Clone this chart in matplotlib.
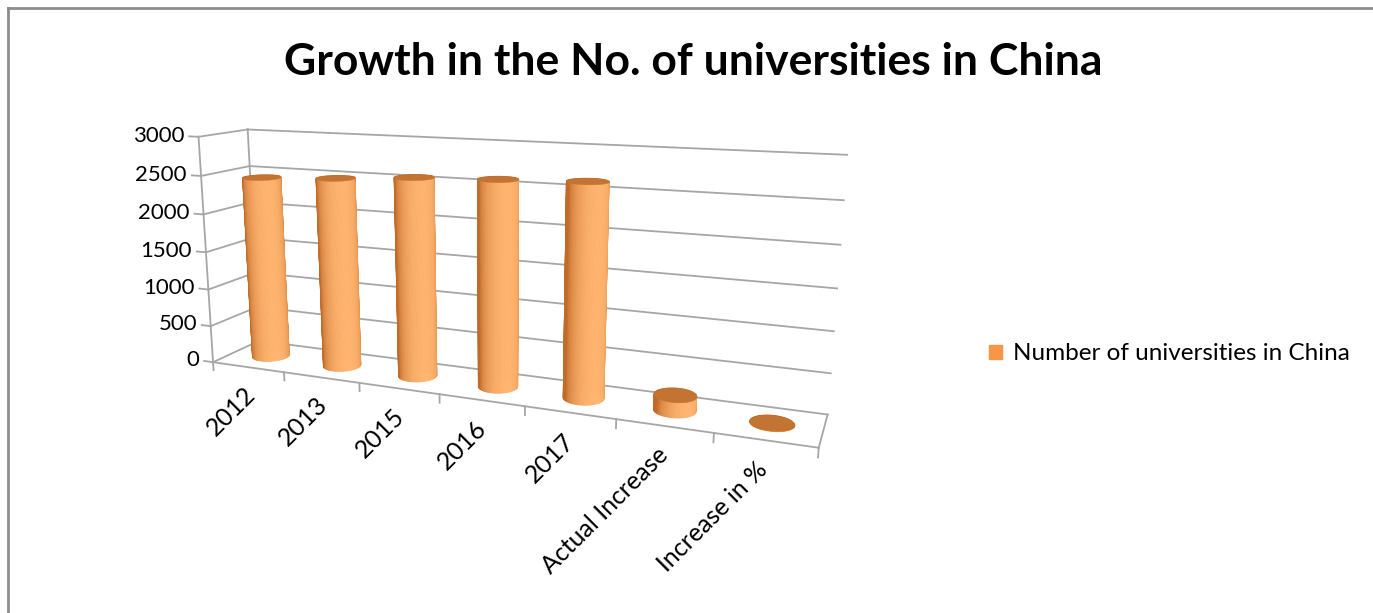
import numpy as np
import matplotlib.pyplot as plt
from matplotlib.lines import Line2D
from matplotlib.patches import Patch
from mpl_toolkits.mplot3d import proj3d
from mpl_toolkits.mplot3d.art3d import Poly3DCollection

# data
categories = ['2012', '2013', '2015', '2016', '2017', 'Actual Increase', 'Increase in %']
universities = [2442, 2491, 2560, 2596, 2631, 189, 7.7]
z_ticks = [0, 500, 1000, 1500, 2000, 2500, 3000]
series_name = 'Number of universities in China'
title = 'Growth in the No. of universities in China'

plt.rcParams['font.family'] = ['Lato', 'DejaVu Sans']

fig = plt.figure(figsize=(13.73, 6.13), dpi=100)
ax = fig.add_axes([0.0573, 0.099, 0.60, 0.90], projection='3d', computed_zorder=False)

n = len(categories)
depth = 1.0
y_scale = 0.95
ax.set_xlim(0, n)
ax.set_ylim(0, depth)
ax.set_zlim(0, 3000)
ax.set_box_aspect((n, depth * y_scale, 2.7), zoom=1.22)
ax.view_init(elev=13, azim=-68)
ax.set_proj_type('persp', focal_length=0.35)
ax.set_axis_off()

M = ax.get_proj()


def label(x, y, z, s, **kw):
    # place a 2D text at the projected position of a 3D point
    px, py, _ = proj3d.proj_transform(x, y, z, M)
    ax.text2D(px, py, s, transform=ax.transData, **kw)


grid = '#a6a6a6'
lw = 1.3
line_kw = dict(color=grid, lw=lw, zorder=1, clip_on=False)

# walls: gridlines on back and left wall, ticks and labels on the value axis
for z in z_ticks:
    ax.plot([0, n], [depth, depth], [z, z], **line_kw)
    ax.plot([0, 0], [0, depth], [z, z], **line_kw)
    ax.plot([-0.13, 0], [0, 0], [z, z], **line_kw)
    label(-0.2, 0, z, str(z), ha='right', va='center', fontsize=16)
ax.plot([0, 0], [0, 0], [0, 3000], **line_kw)
ax.plot([0, 0], [depth, depth], [0, 3000], **line_kw)

# floor outline and category ticks
ax.plot([0, n], [0, 0], [0, 0], **line_kw)
ax.plot([n, n], [0, depth], [0, 0], **line_kw)
for i in range(n + 1):
    ax.plot([i, i], [0, 0], [0, -110], **line_kw)
for i, lab in enumerate(categories):
    label(i + 0.42, 0, -220, lab, rotation=45, ha='right', va='top',
          rotation_mode='anchor', fontsize=18)

# cylinders
dark = np.array([0.76, 0.42, 0.16])
light = np.array([1.0, 0.71, 0.44])
rx = 0.22
ry = rx / y_scale
theta = np.linspace(0, 2 * np.pi, 73)
t_light = np.deg2rad(-40)
for i, h in enumerate(universities):
    cx, cy = i + 0.5, depth / 2
    xs = cx + rx * np.cos(theta)
    ys = cy + ry * np.sin(theta)
    quads, cols = [], []
    for k in range(len(theta) - 1):
        quads.append([(xs[k], ys[k], 0), (xs[k + 1], ys[k + 1], 0),
                      (xs[k + 1], ys[k + 1], h), (xs[k], ys[k], h)])
        tm = 0.5 * (theta[k] + theta[k + 1])
        b = max(0.0, np.cos(tm - t_light)) ** 0.7
        cols.append(tuple(dark + (light - dark) * b))
    side = Poly3DCollection(quads, facecolors=cols, edgecolors=cols, linewidths=0.6, zorder=2)
    side.set_clip_on(False)
    ax.add_collection3d(side)
    cap = Poly3DCollection([list(zip(xs, ys, np.full_like(xs, h)))],
                           facecolors='#c47432', edgecolors='#c47432', linewidths=0.3, zorder=3)
    cap.set_clip_on(False)
    ax.add_collection3d(cap)

fig.text(0.505, 1 - 62 / 613, title, ha='center', va='center', fontsize=32, fontweight='bold')

fig.legend(handles=[Patch(color='#f79646')], labels=[series_name], loc='center left',
           bbox_to_anchor=(989 / 1373, 1 - 354 / 613), frameon=False, fontsize=17.5,
           handlelength=0.55, handleheight=0.55, handletextpad=0.45, borderpad=0, borderaxespad=0)

# chart border (left and top only visible)
border = '#8c8c8c'
fig.add_artist(Line2D([8 / 1373, 8 / 1373], [0, 1 - 8 / 613], color=border, lw=2))
fig.add_artist(Line2D([8 / 1373, 1], [1 - 8 / 613, 1 - 8 / 613], color=border, lw=2))

fig.savefig('out.png', dpi=100)
